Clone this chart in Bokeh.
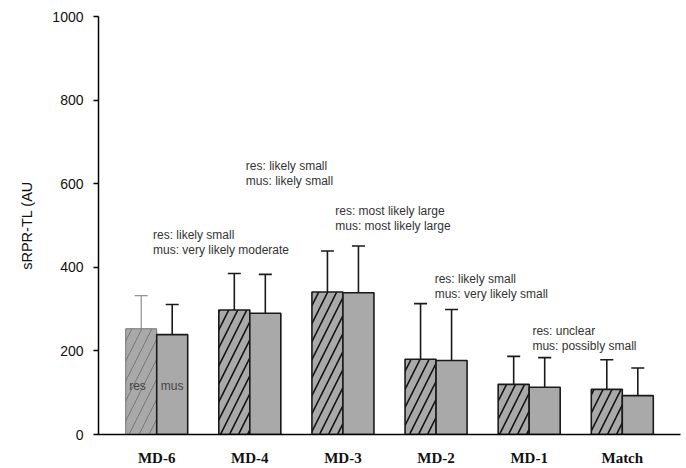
from bokeh.plotting import figure
from bokeh.models import FixedTicker, Range1d
from bokeh.embed import file_html
from bokeh.resources import INLINE
from bokeh.core.properties import value

# ---- data ----
categories = ["MD-6", "MD-4", "MD-3", "MD-2", "MD-1", "Match"]
res_mean = [253, 298, 341, 180, 120, 108]
res_sd = [79, 87, 98, 133, 67, 71]
mus_mean = [239, 290, 339, 177, 113, 93]
mus_sd = [72, 93, 112, 122, 71, 66]
y_ticks = [0, 200, 400, 600, 800, 1000]

ann_res = ["res: likely small", "res: likely small", "res: most likely large",
           "res: likely small", "res: unclear"]
ann_mus = ["mus: very likely moderate", "mus: likely small", "mus: most likely large",
           "mus: very likely small", "mus: possibly small"]
ann_group = [0, 1, 2, 3, 4]
ann_dx = [-0.04, -0.043, -0.083, -0.015, 0.035]
ann_y = [478, 643, 534, 371, 247]
line_gap = 36

# ---- layout ----
bw = 0.333
cap = 0.07
FILL = "#a9a9a9"
EDGE = "#1a1a1a"
FONT = "Liberation Sans"

p = figure(width=686, height=468, output_backend="svg", toolbar_location=None,
           x_range=Range1d(-0.625, 5.625), y_range=Range1d(0, 1000),
           min_border_left=98, min_border_right=6, min_border_top=16,
           min_border_bottom=34)
p.outline_line_color = None
p.grid.visible = False
p.background_fill_color = "white"

idx = list(range(len(categories)))
res_x = [i - bw / 2 for i in idx]
mus_x = [i + bw / 2 for i in idx]

# res bars (first one lighter, thinner strokes)
p.vbar(x=res_x[:1], top=res_mean[:1], width=bw, bottom=0, fill_color=FILL,
       line_color="#777777", line_width=1, hatch_pattern="/", hatch_color="#6a6a6a",
       hatch_scale=20, hatch_weight=0.8)
p.vbar(x=res_x[1:], top=res_mean[1:], width=bw, bottom=0, fill_color=FILL,
       line_color=EDGE, line_width=1.6, hatch_pattern="/", hatch_color="#111111",
       hatch_scale=18, hatch_weight=1.6)
p.vbar(x=mus_x, top=mus_mean, width=bw, bottom=0, fill_color=FILL,
       line_color=EDGE, line_width=1.6)

# error bars
res_top = [m + s for m, s in zip(res_mean, res_sd)]
mus_top = [m + s for m, s in zip(mus_mean, mus_sd)]
p.segment(x0=res_x[:1], y0=res_mean[:1], x1=res_x[:1], y1=res_top[:1],
          line_color="#777777", line_width=1)
p.segment(x0=[x - cap for x in res_x[:1]], y0=res_top[:1],
          x1=[x + cap for x in res_x[:1]], y1=res_top[:1],
          line_color="#777777", line_width=1)
ex = res_x[1:] + mus_x
ey0 = res_mean[1:] + mus_mean
ey1 = res_top[1:] + mus_top
p.segment(x0=ex, y0=ey0, x1=ex, y1=ey1, line_color=EDGE, line_width=1.6)
p.segment(x0=[x - cap for x in ex], y0=ey1, x1=[x + cap for x in ex], y1=ey1,
          line_color=EDGE, line_width=1.6)

# annotations
ax = [g + d for g, d in zip(ann_group, ann_dx)]
p.text(x=ax, y=ann_y, text=ann_res, text_font=value(FONT), text_font_size="12px",
       text_color="#333333", text_baseline="middle", text_align="left")
p.text(x=ax, y=[y - line_gap for y in ann_y], text=ann_mus, text_font=value(FONT),
       text_font_size="12px", text_color="#333333", text_baseline="middle",
       text_align="left")
p.text(x=[res_x[0] - 0.04, mus_x[0]], y=[117, 117], text=["res", "mus"],
       text_font=value(FONT), text_font_size="12px", text_color="#444444",
       text_baseline="middle", text_align="center")

# axes
yax = p.yaxis[0]
yax.ticker = FixedTicker(ticks=y_ticks)
yax.minor_tick_line_color = None
yax.major_tick_in = 0
yax.major_tick_out = 5
yax.major_tick_line_width = 1.5
yax.axis_line_width = 1.5
yax.axis_line_color = "black"
yax.major_tick_line_color = "black"
yax.major_label_text_font = FONT
yax.major_label_text_font_size = "14px"
yax.major_label_text_color = "#111111"
yax.major_label_standoff = 10
yax.axis_label = "sRPR-TL (AU"
yax.axis_label_text_font = FONT
yax.axis_label_text_font_size = "14.5px"
yax.axis_label_text_font_style = "normal"
yax.axis_label_text_color = "#111111"
yax.axis_label_standoff = 14

xax = p.xaxis[0]
xax.ticker = FixedTicker(ticks=idx)
xax.major_label_overrides = {i: c for i, c in zip(idx, categories)}
xax.major_tick_line_color = None
xax.minor_tick_line_color = None
xax.axis_line_width = 1.5
xax.axis_line_color = "black"
xax.major_label_text_font = "Liberation Serif"
xax.major_label_text_font_style = "bold"
xax.major_label_text_font_size = "15px"
xax.major_label_text_color = "#111111"
xax.major_label_standoff = 9

open("out.html", "w").write(file_html(p, INLINE))
